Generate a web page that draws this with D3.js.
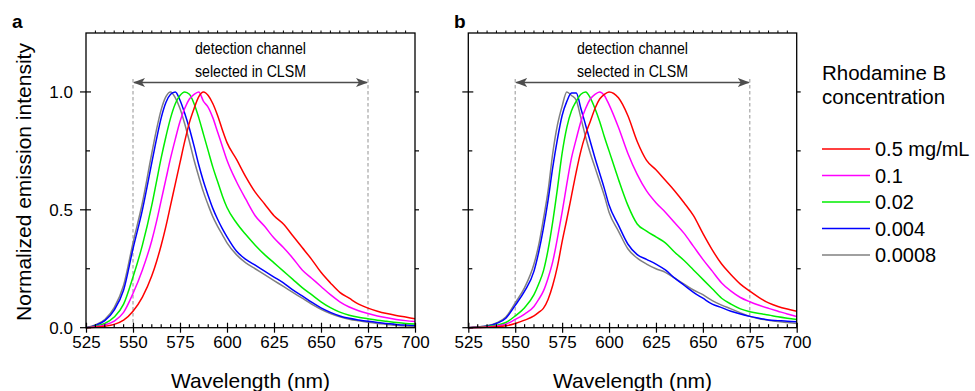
<!DOCTYPE html>
<html>
<head>
<meta charset="utf-8">
<script src="https://cdn.jsdelivr.net/npm/d3@7"></script>
<style>
  body { margin: 0; background: #fff; }
  svg { display: block; font-family: "Liberation Sans", Arial, sans-serif; }
</style>
</head>
<body>
<svg id="chart" width="975" height="391"></svg>
<script>
// Shared wavelength grid (nm)
const wavelengths = [525, 530, 535, 540, 545, 550, 555, 560, 562.5, 565, 567.5, 570, 572.5, 575, 577.5, 580, 582.5, 585, 587.5, 590, 592.5, 595, 597.5, 600, 605, 610, 615, 620, 625, 630, 635, 640, 645, 650, 655, 660, 665, 670, 675, 680, 685, 690, 695, 700];

const concLabels = ['0.5 mg/mL', '0.1', '0.02', '0.004', '0.0008'];
const concColors = ['#ff0000', '#ff00ff', '#00ee00', '#0000ff', '#808080'];

// Panel a
const a_05 = [0, 0.002, 0.006, 0.014, 0.032, 0.07, 0.13, 0.22, 0.28, 0.35, 0.43, 0.52, 0.61, 0.70, 0.79, 0.87, 0.93, 0.98, 1.0, 0.985, 0.95, 0.90, 0.84, 0.785, 0.715, 0.64, 0.575, 0.525, 0.475, 0.44, 0.39, 0.34, 0.29, 0.235, 0.19, 0.15, 0.125, 0.10, 0.083, 0.07, 0.06, 0.052, 0.045, 0.038];
const a_01 = [0, 0.004, 0.012, 0.028, 0.065, 0.145, 0.245, 0.37, 0.45, 0.54, 0.63, 0.72, 0.80, 0.875, 0.93, 0.97, 0.99, 1.0, 0.96, 0.935, 0.89, 0.83, 0.77, 0.71, 0.62, 0.545, 0.475, 0.43, 0.38, 0.34, 0.295, 0.245, 0.21, 0.175, 0.14, 0.11, 0.088, 0.072, 0.06, 0.05, 0.042, 0.035, 0.03, 0.026];
const a_002 = [0, 0.006, 0.018, 0.045, 0.10, 0.215, 0.35, 0.52, 0.62, 0.72, 0.81, 0.89, 0.95, 0.985, 1.0, 0.99, 0.95, 0.89, 0.82, 0.75, 0.68, 0.62, 0.56, 0.51, 0.445, 0.395, 0.35, 0.31, 0.275, 0.24, 0.205, 0.17, 0.14, 0.11, 0.085, 0.066, 0.053, 0.044, 0.038, 0.032, 0.027, 0.022, 0.018, 0.016];
const a_0004 = [0, 0.010, 0.030, 0.075, 0.16, 0.335, 0.50, 0.70, 0.80, 0.89, 0.955, 0.99, 1.0, 0.965, 0.91, 0.845, 0.77, 0.69, 0.62, 0.56, 0.505, 0.46, 0.42, 0.385, 0.325, 0.29, 0.265, 0.24, 0.215, 0.19, 0.16, 0.135, 0.108, 0.084, 0.065, 0.05, 0.04, 0.033, 0.027, 0.022, 0.018, 0.014, 0.011, 0.009];
const a_00008 = [0, 0.012, 0.035, 0.085, 0.18, 0.36, 0.53, 0.74, 0.84, 0.925, 0.98, 1.0, 0.975, 0.93, 0.865, 0.79, 0.71, 0.64, 0.575, 0.52, 0.47, 0.43, 0.395, 0.36, 0.31, 0.275, 0.25, 0.225, 0.20, 0.175, 0.15, 0.125, 0.10, 0.078, 0.06, 0.046, 0.036, 0.029, 0.023, 0.018, 0.014, 0.010, 0.007, 0.005];

// Panel b
const b_05 = [0, 0.001, 0.002, 0.004, 0.008, 0.018, 0.032, 0.05, 0.065, 0.082, 0.12, 0.18, 0.26, 0.365, 0.46, 0.56, 0.66, 0.75, 0.82, 0.875, 0.93, 0.97, 0.99, 1.0, 0.975, 0.90, 0.79, 0.71, 0.67, 0.625, 0.58, 0.53, 0.475, 0.40, 0.33, 0.27, 0.225, 0.185, 0.155, 0.128, 0.105, 0.09, 0.079, 0.07];
const b_01 = [0, 0.001, 0.003, 0.007, 0.015, 0.035, 0.058, 0.09, 0.12, 0.155, 0.21, 0.28, 0.38, 0.49, 0.61, 0.72, 0.80, 0.875, 0.93, 0.97, 0.99, 1.0, 0.985, 0.946, 0.85, 0.74, 0.65, 0.58, 0.53, 0.49, 0.445, 0.40, 0.345, 0.29, 0.24, 0.19, 0.155, 0.128, 0.11, 0.095, 0.082, 0.07, 0.058, 0.047];
const b_002 = [0, 0.002, 0.005, 0.01, 0.022, 0.05, 0.085, 0.14, 0.185, 0.24, 0.33, 0.45, 0.59, 0.74, 0.85, 0.92, 0.96, 0.99, 1.0, 0.975, 0.93, 0.875, 0.81, 0.75, 0.63, 0.52, 0.44, 0.41, 0.385, 0.36, 0.32, 0.285, 0.245, 0.205, 0.165, 0.125, 0.10, 0.08, 0.068, 0.06, 0.054, 0.046, 0.04, 0.035];
const b_0004 = [0, 0.003, 0.007, 0.018, 0.04, 0.095, 0.155, 0.24, 0.32, 0.42, 0.54, 0.68, 0.80, 0.90, 0.96, 0.995, 0.995, 0.93, 0.86, 0.79, 0.72, 0.655, 0.59, 0.52, 0.435, 0.355, 0.31, 0.29, 0.27, 0.245, 0.21, 0.18, 0.15, 0.125, 0.10, 0.085, 0.07, 0.058, 0.048, 0.04, 0.033, 0.03, 0.027, 0.025];
const b_00008 = [0, 0.003, 0.008, 0.02, 0.045, 0.105, 0.17, 0.27, 0.35, 0.46, 0.58, 0.74, 0.86, 0.94, 1.0, 0.985, 0.965, 0.89, 0.81, 0.74, 0.68, 0.62, 0.56, 0.49, 0.41, 0.335, 0.295, 0.27, 0.25, 0.235, 0.21, 0.185, 0.16, 0.14, 0.115, 0.096, 0.08, 0.063, 0.048, 0.038, 0.032, 0.026, 0.022, 0.018];

const xTicks = [525, 550, 575, 600, 625, 650, 675, 700];
const yTicks = [0, 0.5, 1.0];
const channel = [550, 675];

const svg = d3.select('#chart');
const plotTop = 33, plotBottom = 327.7;

svg.append('defs').append('marker')
  .attr('id', 'arrowhead')
  .attr('viewBox', '0 -5 12 10')
  .attr('refX', 11)
  .attr('refY', 0)
  .attr('markerUnits', 'userSpaceOnUse')
  .attr('markerWidth', 12)
  .attr('markerHeight', 10)
  .attr('orient', 'auto-start-reverse')
  .append('path')
  .attr('d', 'M0,-4.5 L12,0 L0,4.5 L3,0 Z')
  .attr('fill', '#4d4d4d');

function drawPanel(left, right, label, labelX, series, showYLabels) {
  const x = d3.scaleLinear().domain([525, 700]).range([left, right]);
  const y = d3.scaleLinear().domain([0, 1.25]).range([plotBottom, plotTop]);
  const g = svg.append('g');

  // detection channel guides
  channel.forEach(function(w) {
    g.append('line')
      .attr('x1', x(w)).attr('x2', x(w))
      .attr('y1', 79).attr('y2', plotBottom)
      .attr('stroke', '#a6a6a6')
      .attr('stroke-width', 1.2)
      .attr('stroke-dasharray', '3.5,2.5');
  });
  g.append('line')
    .attr('x1', x(channel[0]) + 1).attr('x2', x(channel[1]) - 1)
    .attr('y1', 82.5).attr('y2', 82.5)
    .attr('stroke', '#4d4d4d')
    .attr('stroke-width', 1.4)
    .attr('marker-start', 'url(#arrowhead)')
    .attr('marker-end', 'url(#arrowhead)');
  const mid = x((channel[0] + channel[1]) / 2);
  g.append('text').attr('x', mid).attr('y', 54).attr('text-anchor', 'middle')
    .attr('textLength', 111).attr('lengthAdjust', 'spacingAndGlyphs')
    .style('font-size', '17px').text('detection channel');
  g.append('text').attr('x', mid).attr('y', 77).attr('text-anchor', 'middle')
    .attr('textLength', 111).attr('lengthAdjust', 'spacingAndGlyphs')
    .style('font-size', '17px').text('selected in CLSM');

  // curves, lowest concentration first
  const line = d3.line()
    .x(function(d) { return x(d[0]); })
    .y(function(d) { return y(d[1]); })
    .curve(d3.curveMonotoneX);
  for (let i = series.length - 1; i >= 0; i--) {
    const pts = wavelengths.map(function(w, j) { return [w, series[i][j]]; });
    g.append('path')
      .attr('d', line(pts))
      .attr('fill', 'none')
      .attr('stroke', concColors[i])
      .attr('stroke-width', 1.5)
      .attr('stroke-linejoin', 'round');
  }

  // bottom axis
  const minorX = d3.range(530, 700, 5).filter(function(v) { return v % 25 !== 0; });
  const ax = g.append('g').attr('transform', 'translate(0,' + plotBottom + ')')
    .call(d3.axisBottom(x).tickValues(xTicks).tickSize(5).tickPadding(3));
  ax.selectAll('.tick line').attr('y1', -5).attr('stroke-width', 1.2);
  ax.select('.domain').remove();
  ax.selectAll('.tick text').style('font-size', '17px').attr('fill', '#000')
    .style('font-family', '"Liberation Sans", Arial, sans-serif');
  minorX.forEach(function(v) {
    g.append('line').attr('x1', x(v)).attr('x2', x(v))
      .attr('y1', plotBottom - 3.5).attr('y2', plotBottom).attr('stroke', '#000').attr('stroke-width', 1.2);
  });

  // left axis ticks
  [0.25, 0.75].forEach(function(v) {
    g.append('line').attr('x1', left).attr('x2', left + 4)
      .attr('y1', y(v)).attr('y2', y(v)).attr('stroke', '#000').attr('stroke-width', 1.2);
  });
  yTicks.forEach(function(v) {
    g.append('line').attr('x1', left - 6).attr('x2', left + 5)
      .attr('y1', y(v)).attr('y2', y(v)).attr('stroke', '#000').attr('stroke-width', 1.2);
    if (showYLabels) {
      g.append('text').attr('x', left - 13).attr('y', y(v) + 6)
        .attr('text-anchor', 'end').style('font-size', '17px')
        .text(d3.format('.1f')(v));
    }
  });
  // right axis ticks
  [0.25, 0.5, 0.75, 1.0].forEach(function(v) {
    g.append('line').attr('x1', right).attr('x2', right + 4)
      .attr('y1', y(v)).attr('y2', y(v)).attr('stroke', '#000').attr('stroke-width', 1.2);
  });
  // top axis ticks
  d3.range(530, 700, 5).forEach(function(v) {
    g.append('line').attr('x1', x(v)).attr('x2', x(v))
      .attr('y1', plotTop - 2.5).attr('y2', plotTop).attr('stroke', '#000').attr('stroke-width', 1);
  });

  // frame
  g.append('rect')
    .attr('x', left).attr('y', plotTop)
    .attr('width', right - left).attr('height', plotBottom - plotTop)
    .attr('fill', 'none').attr('stroke', '#000').attr('stroke-width', 1.3);

  g.append('text').attr('x', (left + right) / 2).attr('y', 388)
    .attr('text-anchor', 'middle').style('font-size', '21px').text('Wavelength (nm)');

  svg.append('text').attr('x', labelX).attr('y', 28)
    .style('font-size', '19px').style('font-weight', 'bold').text(label);
}

drawPanel(86, 415, 'a', 12, [a_05, a_01, a_002, a_0004, a_00008], true);
drawPanel(468.3, 796.7, 'b', 454, [b_05, b_01, b_002, b_0004, b_00008], false);

// y title
svg.append('text')
  .attr('transform', 'translate(31,182) rotate(-90)')
  .attr('text-anchor', 'middle')
  .style('font-size', '21px')
  .text('Normalized emission intensity');

// legend
const legend = svg.append('g');
legend.append('text').attr('x', 822).attr('y', 80).style('font-size', '20.5px').text('Rhodamine B');
legend.append('text').attr('x', 822).attr('y', 104).style('font-size', '20.5px').text('concentration');
concLabels.forEach(function(lbl, i) {
  const yy = 149 + i * 26.5;
  legend.append('line').attr('x1', 822).attr('x2', 870).attr('y1', yy).attr('y2', yy)
    .attr('stroke', concColors[i]).attr('stroke-width', 1.5);
  legend.append('text').attr('x', 875).attr('y', yy + 7).style('font-size', '20px').text(lbl);
});
</script>
</body>
</html>
